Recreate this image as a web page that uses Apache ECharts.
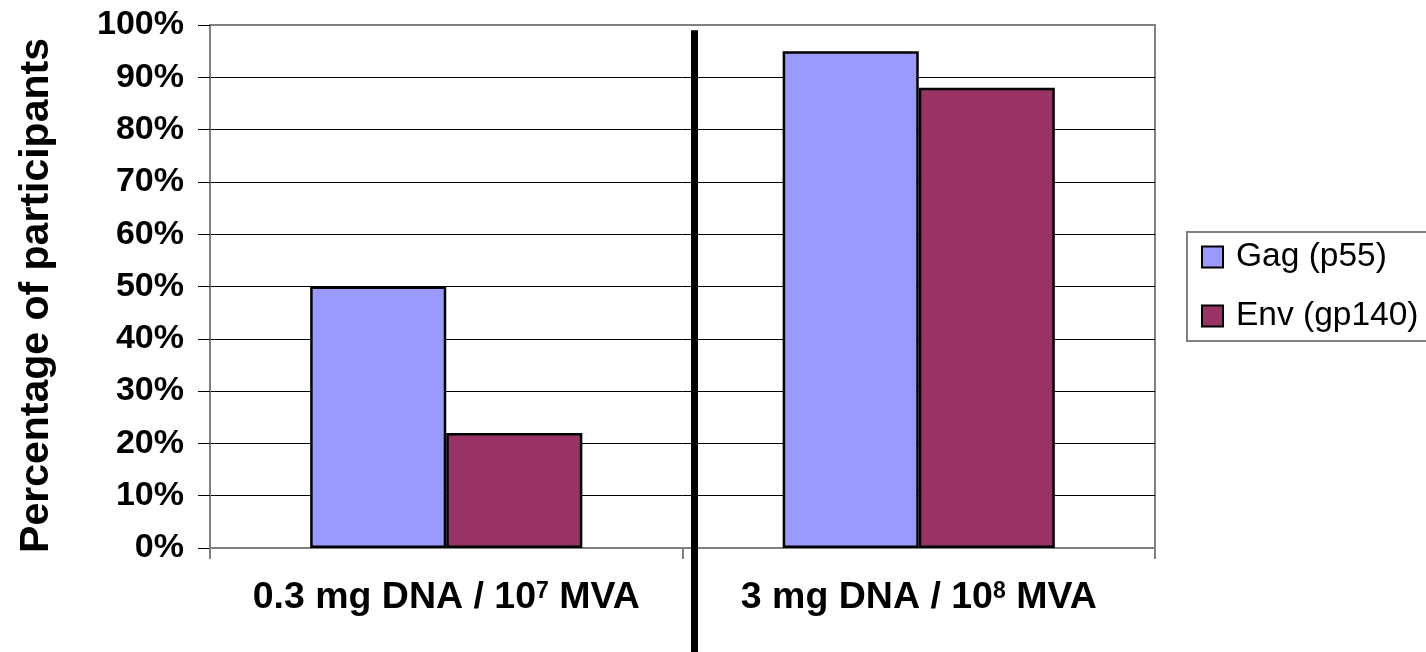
<!DOCTYPE html>
<html>
<head>
<meta charset="utf-8">
<script src="https://cdn.jsdelivr.net/npm/echarts@6/dist/echarts.min.js"></script>
<style>
html,body{margin:0;padding:0;background:#fff;}
#chart{width:1426px;height:652px;}
</style>
</head>
<body>
<div id="chart"></div>
<script>
const categories = ['0.3 mg DNA / 10|7| MVA', '3 mg DNA / 10|8| MVA'];
const seriesNames = ['Gag (p55)', 'Env (gp140)'];
const gagValues = [50, 95];
const envValues = [22, 88];
const yTicks = [0, 10, 20, 30, 40, 50, 60, 70, 80, 90, 100];

const FONT = 'Arial, "Liberation Sans", sans-serif';
const chart = echarts.init(document.getElementById('chart'), null, {renderer: 'canvas'});

const option = {
  animation: false,
  backgroundColor: '#ffffff',
  textStyle: {fontFamily: FONT},
  grid: {
    left: 210, right: 271, top: 25, bottom: 104,
    show: true, borderColor: '#808080', borderWidth: 2, backgroundColor: 'transparent'
  },
  legend: {
    orient: 'vertical',
    left: 1187, top: 232,
    padding: [8, 14, 8, 14],
    borderColor: '#808080', borderWidth: 2,
    itemWidth: 21, itemHeight: 21, itemGap: 25,
    icon: 'rect',
    itemStyle: {borderColor: '#000', borderWidth: 2},
    textStyle: {fontFamily: FONT, fontSize: 33.5, color: '#000', lineHeight: 33, padding: [0, 0, 0, 8]},
    data: seriesNames
  },
  xAxis: {
    type: 'category',
    data: categories,
    axisLine: {lineStyle: {color: '#808080', width: 2}},
    axisTick: {show: true, alignWithLabel: false, length: 11, lineStyle: {color: '#808080', width: 2}},
    axisLabel: {
      margin: 30,
      formatter: function (v) {
        const p = v.split('|');
        return '{b|' + p[0] + '}{s|' + p[1] + '}{b|' + p[2] + '}';
      },
      rich: {
        b: {fontFamily: FONT, fontSize: 37.5, fontWeight: 'bold', color: '#000', lineHeight: 40},
        s: {fontFamily: FONT, fontSize: 23, fontWeight: 'bold', color: '#000', lineHeight: 40, verticalAlign: 'top', padding: [2, 0, 0, 0]}
      }
    },
    splitLine: {show: false}
  },
  yAxis: {
    type: 'value',
    min: 0, max: 100, interval: 10,
    name: 'Percentage of participants',
    nameLocation: 'middle',
    nameRotate: 90,
    nameGap: 153,
    nameTextStyle: {fontFamily: FONT, fontSize: 41, fontWeight: 'bold', color: '#000', padding: [0, 18, 0, 0]},
    axisLine: {show: true, lineStyle: {color: '#808080', width: 2}},
    axisTick: {show: true, length: 12, inside: false, lineStyle: {color: '#000', width: 1}},
    axisLabel: {
      margin: 26,
      fontFamily: FONT, fontSize: 34, fontWeight: 'bold', color: '#000',
      formatter: function (v) { return yTicks.indexOf(v) >= 0 ? v + '%' : ''; }
    },
    splitLine: {show: true, showMaxLine: false, showMinLine: false, lineStyle: {color: '#000', width: 1}}
  },
  series: [
    {
      name: seriesNames[0], type: 'bar', data: gagValues,
      barGap: '0%', barCategoryGap: '42.4%',
      itemStyle: {color: '#9999FF', borderColor: '#000', borderWidth: 2.5}
    },
    {
      name: seriesNames[1], type: 'bar', data: envValues,
      barGap: '0%', barCategoryGap: '42.4%',
      itemStyle: {color: '#993366', borderColor: '#000', borderWidth: 2.5}
    }
  ]
};
chart.setOption(option);

// Thick divider annotation between the two groups (positioned from the axis scale)
const c0 = chart.convertToPixel({xAxisIndex: 0}, 0);
const c1 = chart.convertToPixel({xAxisIndex: 0}, 1);
const xDiv = (c0 + c1) / 2 + 12;
const yTop = chart.convertToPixel({yAxisIndex: 0}, 99);
chart.setOption({
  graphic: [{
    type: 'line', z: 100,
    shape: {x1: xDiv, y1: yTop, x2: xDiv, y2: 652},
    style: {stroke: '#000', lineWidth: 7}
  }]
});
</script>
</body>
</html>
